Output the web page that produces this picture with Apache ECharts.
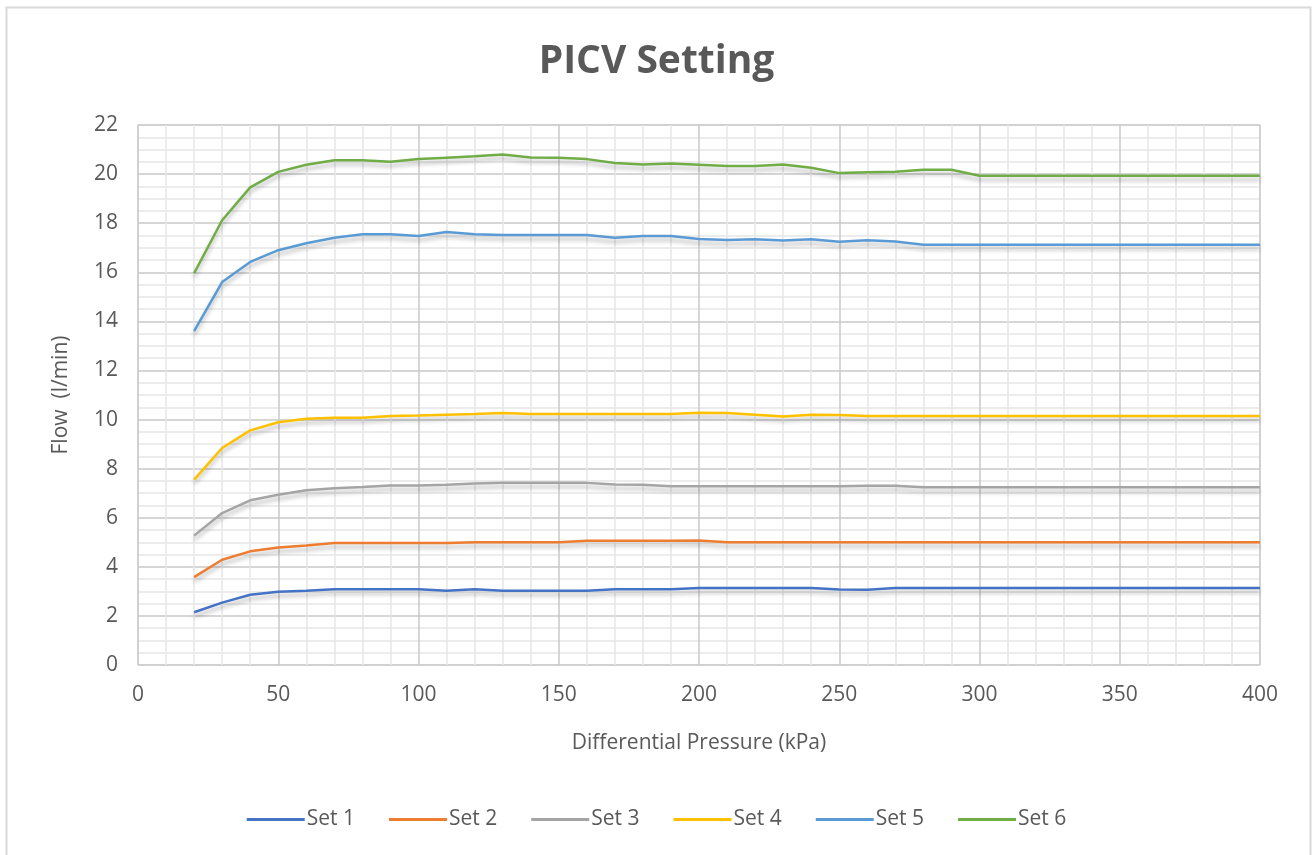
<!DOCTYPE html>
<html>
<head>
<meta charset="utf-8">
<title>PICV Setting</title>
<script src="https://cdn.jsdelivr.net/npm/echarts@6/dist/echarts.min.js"></script>
<style>
    html, body { margin: 0; padding: 0; background: #fff; }
    #main { width: 1313px; height: 855px; }
</style>
</head>
<body>
<div id="main"></div>
<script>
//--------------------数据---------------------------
var pressure = [20, 30, 40, 50, 60, 70, 80, 90, 100, 110, 120, 130, 140, 150, 160, 170, 180, 190, 200,
    210, 220, 230, 240, 250, 260, 270, 280, 290, 300, 310, 320, 330, 340, 350, 360, 370, 380, 390, 400];   // X轴 kPa

var set1 = [2.15, 2.54, 2.86, 2.98, 3.03, 3.09, 3.09, 3.09, 3.09, 3.03, 3.09, 3.03, 3.03, 3.03, 3.03, 3.09, 3.09, 3.09, 3.14,
    3.14, 3.14, 3.14, 3.14, 3.08, 3.07, 3.14, 3.14, 3.14, 3.14, 3.14, 3.14, 3.14, 3.14, 3.14, 3.14, 3.14, 3.14, 3.14, 3.14];
var set2 = [3.58, 4.29, 4.63, 4.79, 4.87, 4.97, 4.97, 4.97, 4.97, 4.97, 5.0, 5.0, 5.0, 5.0, 5.06, 5.06, 5.06, 5.06, 5.07,
    5.0, 5.0, 5.0, 5.0, 5.0, 5.0, 5.0, 5.0, 5.0, 5.0, 5.0, 5.0, 5.0, 5.0, 5.0, 5.0, 5.0, 5.0, 5.0, 5.0];
var set3 = [5.27, 6.19, 6.71, 6.94, 7.12, 7.2, 7.25, 7.31, 7.31, 7.34, 7.39, 7.42, 7.42, 7.42, 7.42, 7.35, 7.34, 7.28, 7.28,
    7.28, 7.28, 7.28, 7.28, 7.28, 7.3, 7.3, 7.24, 7.24, 7.24, 7.24, 7.24, 7.24, 7.24, 7.24, 7.24, 7.24, 7.24, 7.24, 7.24];
var set4 = [7.55, 8.84, 9.56, 9.89, 10.03, 10.07, 10.07, 10.14, 10.16, 10.2, 10.23, 10.27, 10.23, 10.23, 10.23, 10.23, 10.23, 10.23, 10.28,
    10.27, 10.2, 10.12, 10.2, 10.19, 10.14, 10.14, 10.14, 10.14, 10.14, 10.14, 10.14, 10.14, 10.14, 10.14, 10.14, 10.14, 10.14, 10.14, 10.14];
var set5 = [13.6, 15.6, 16.42, 16.9, 17.18, 17.41, 17.55, 17.55, 17.48, 17.64, 17.55, 17.52, 17.52, 17.52, 17.52, 17.41, 17.48, 17.48, 17.36,
    17.31, 17.35, 17.29, 17.35, 17.24, 17.3, 17.25, 17.12, 17.12, 17.12, 17.12, 17.12, 17.12, 17.12, 17.12, 17.12, 17.12, 17.12, 17.12, 17.12];
var set6 = [15.96, 18.12, 19.46, 20.09, 20.38, 20.56, 20.56, 20.5, 20.61, 20.67, 20.73, 20.8, 20.68, 20.67, 20.61, 20.45, 20.39, 20.43, 20.38,
    20.33, 20.33, 20.39, 20.26, 20.04, 20.07, 20.1, 20.18, 20.18, 19.93, 19.93, 19.93, 19.93, 19.93, 19.93, 19.93, 19.93, 19.93, 19.93, 19.93];

var seriesNames = ['Set 1', 'Set 2', 'Set 3', 'Set 4', 'Set 5', 'Set 6'];
var seriesData = [set1, set2, set3, set4, set5, set6];
var colors = ['#4472C4', '#ED7D31', '#A5A5A5', '#FFC000', '#5B9BD5', '#70AD47'];
//--------------------数据---------------------------

var myChart = echarts.init(document.getElementById('main'));
var textColor = '#595959';
var font = "'Open Sans', 'Liberation Sans', sans-serif";

function pairs(ys) {
    var out = [];
    for (var i = 0; i < pressure.length; i++) {
        out.push([pressure[i], ys[i]]);
    }
    return out;
}

var series = [];
for (var i = 0; i < seriesNames.length; i++) {
    series.push({
        name: seriesNames[i],
        type: 'line',
        data: pairs(seriesData[i]),
        showSymbol: false,
        symbol: 'none',
        color: colors[i],
        lineStyle: {
            width: 2.5,
            color: colors[i],
            shadowColor: 'rgba(0,0,0,0.28)',
            shadowBlur: 4,
            shadowOffsetY: 4
        }
    });
}

var option = {
    backgroundColor: '#fff',
    animation: false,
    textStyle: { fontFamily: font },
    graphic: [
        {
            type: 'rect',
            shape: { x: 6.5, y: 7.5, width: 1304, height: 860 },
            style: { fill: 'none', stroke: '#d9d9d9', lineWidth: 2 },
            silent: true
        }
    ],
    title: {
        text: 'PICV Setting',
        left: 'center',
        top: 37,
        textStyle: { fontFamily: font, fontSize: 39, fontWeight: 'bold', color: textColor }
    },
    legend: {
        bottom: 20,
        left: 'center',
        itemWidth: 58,
        itemHeight: 3,
        itemGap: 34,
        icon: 'rect',
        data: seriesNames,
        textStyle: { fontFamily: font, fontSize: 21, color: textColor, padding: [0, 0, 0, -3] }
    },
    grid: {
        left: 138,
        right: 53,
        top: 125,
        bottom: 190,
        show: true,
        borderColor: '#d9d9d9',
        borderWidth: 1
    },
    xAxis: {
        type: 'value',
        min: 0,
        max: 400,
        interval: 50,
        name: 'Differential Pressure (kPa)',
        nameLocation: 'middle',
        nameGap: 68,
        nameTextStyle: { fontFamily: font, fontSize: 21, color: textColor },
        axisLine: { show: false },
        axisTick: { show: false },
        axisLabel: { fontFamily: font, fontSize: 21, color: textColor, margin: 20 },
        splitLine: { show: true, lineStyle: { color: '#c8c8c8', width: 1.5 } },
        minorTick: { show: false, splitNumber: 5 },
        minorSplitLine: { show: true, lineStyle: { color: '#e6e6e6', width: 1.5 } }
    },
    yAxis: {
        type: 'value',
        min: 0,
        max: 22,
        interval: 2,
        name: 'Flow  (l/min)',
        nameLocation: 'middle',
        nameGap: 66,
        nameTextStyle: { fontFamily: font, fontSize: 21, color: textColor },
        axisLine: { show: false },
        axisTick: { show: false },
        axisLabel: { fontFamily: font, fontSize: 21, color: textColor, margin: 20 },
        splitLine: { show: true, lineStyle: { color: '#c8c8c8', width: 1.5 } },
        minorTick: { show: false, splitNumber: 4 },
        minorSplitLine: { show: true, lineStyle: { color: '#e6e6e6', width: 1.5 } }
    },
    series: series
};

myChart.setOption(option);
</script>
</body>
</html>
